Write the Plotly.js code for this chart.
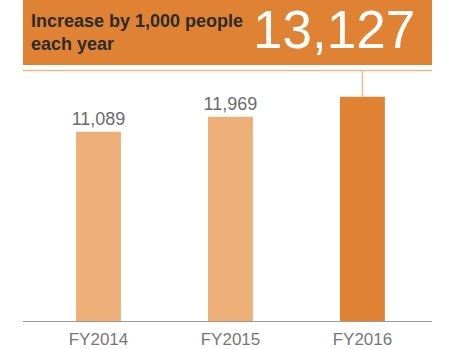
<!DOCTYPE html>
<html>
<head>
<meta charset="utf-8">
<script src="https://cdn.plot.ly/plotly-3.0.1.min.js"></script>
<style>html,body{margin:0;padding:0;background:#fff;}#chart{width:468px;height:349px;}</style>
</head>
<body>
<div id="chart"></div>
<script>
const categories = ['FY2014', 'FY2015', 'FY2016'];
const values = [11089, 11969, 13127];
const showLabel = [true, true, false];
const barColors = ['#ECAF78', '#ECAF78', '#E08234'];
const headline = 'Increase by 1,000 people<br>each year';
const highlightValue = values[2];

const yMax = 14700;
const fmt = v => v.toLocaleString('en-US');

const trace = {
  type: 'bar',
  x: categories,
  y: values,
  marker: {color: barColors},
  width: 0.34,
  text: values.map((v, i) => showLabel[i] ? fmt(v) : ''),
  textposition: 'outside',
  constraintext: 'none',
  textfont: {family: 'Liberation Sans, Arial, sans-serif', size: 18, color: '#6b6b6b'},
  cliponaxis: false,
  hoverinfo: 'none'
};

const layout = {
  width: 468, height: 349,
  margin: {l: 23, r: 36, t: 70, b: 28},
  paper_bgcolor: '#fff', plot_bgcolor: '#fff',
  showlegend: false,
  xaxis: {
    range: [-0.572, 2.527],
    showgrid: false, zeroline: false,
    showline: true, linecolor: '#9a9a9a', linewidth: 1.2,
    ticks: '',
    ticklabelstandoff: 2,
    tickfont: {family: 'Liberation Sans, Arial, sans-serif', size: 17, color: '#777'},
    fixedrange: true
  },
  yaxis: {
    range: [0, yMax],
    visible: false,
    fixedrange: true
  },
  shapes: [
    {type: 'rect', xref: 'paper', yref: 'paper', x0: 0, x1: 1, y0: 1 + 5/251, y1: 1 + 70/251,
     fillcolor: '#E08234', line: {width: 0}, layer: 'below'},
    {type: 'line', xref: 'paper', yref: 'paper', x0: 0, x1: 1, y0: 1 - 0.5/251, y1: 1 - 0.5/251,
     line: {color: '#EFB68A', width: 1.5}},
    {type: 'line', xref: 'x', yref: 'y', x0: 2, x1: 2, y0: highlightValue, y1: yMax,
     line: {color: '#F2BC92', width: 1.5}}
  ],
  annotations: [
    {xref: 'paper', yref: 'paper', x: 6/409, y: 1 + 37.5/251, xanchor: 'left', yanchor: 'middle',
     text: '<b>' + headline + '</b>', showarrow: false, align: 'left',
     font: {family: 'Liberation Sans, Arial, sans-serif', size: 18, color: '#2b2b2b'}},
    {xref: 'paper', yref: 'paper', x: 1 - 15/409, y: 1 + 40/251, xanchor: 'right', yanchor: 'middle',
     text: fmt(highlightValue), showarrow: false,
     font: {family: 'Liberation Sans, Arial, sans-serif', size: 53, color: '#ffffff'}}
  ]
};

Plotly.newPlot('chart', [trace], layout, {displayModeBar: false, staticPlot: true});
</script>
</body>
</html>
